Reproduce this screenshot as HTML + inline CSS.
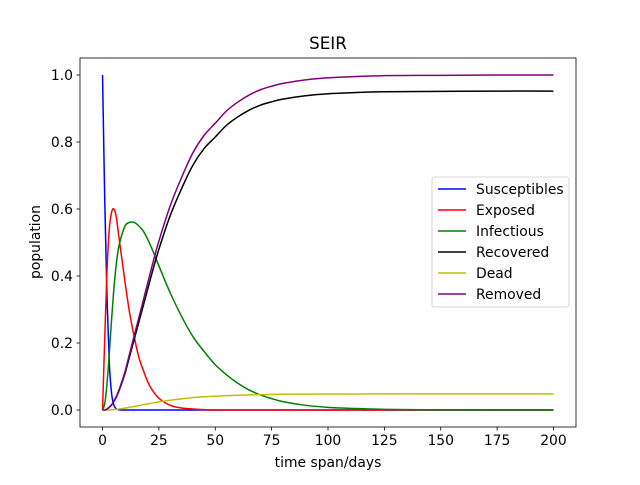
<!DOCTYPE html>
<html><head><meta charset="utf-8"><style>
body{margin:0;background:#fff}
svg{font-family:"DejaVu Sans","Liberation Sans",sans-serif}
</style></head><body>
<svg id="c" width="640" height="480" xmlns="http://www.w3.org/2000/svg">
<rect width="640" height="480" fill="#fff"/>
<text x="328" y="49" font-size="16.7" text-anchor="middle">SEIR</text>
<g id="plot"></g>
<rect x="80" y="58" width="496" height="369" fill="none" stroke="#000" stroke-width="0.8"/>
<text x="328" y="467" font-size="13.9" text-anchor="middle">time span/days</text>
<text x="40" y="242" font-size="13.9" text-anchor="middle" transform="rotate(-90 40 242)">population</text>
<g id="legend"></g>
</svg>
<script>
const days=[0,1,2,3,4,5,6,7,8,10,12,14,16,18,20,22,25,30,35,40,45,50,55,60,65,70,75,80,90,100,110,125,150,175,200];
const susceptibles=[1,0.62,0.33,0.14,0.05,0.015,0.004,0.001,0,0,0,0,0,0,0,0,0,0,0,0,0,0,0,0,0,0,0,0,0,0,0,0,0,0,0];
const exposed=[0,0.22,0.42,0.54,0.59,0.6,0.58,0.53,0.48,0.38,0.29,0.22,0.16,0.12,0.085,0.06,0.035,0.014,0.006,0.003,0.001,0,0,0,0,0,0,0,0,0,0,0,0,0,0];
const infectious=[0,0.02,0.08,0.17,0.27,0.36,0.43,0.48,0.51,0.55,0.56,0.56,0.55,0.535,0.51,0.48,0.43,0.35,0.28,0.22,0.175,0.135,0.105,0.08,0.06,0.045,0.034,0.025,0.014,0.008,0.005,0.002,0.0005,0,0];
const recovered=[0,0,0.003,0.008,0.015,0.025,0.037,0.052,0.07,0.11,0.16,0.21,0.26,0.31,0.36,0.41,0.48,0.58,0.66,0.73,0.78,0.815,0.85,0.875,0.895,0.91,0.92,0.928,0.938,0.944,0.947,0.95,0.951,0.952,0.952];
const dead=recovered.map(v=>v*0.0505);
const removed=recovered.map((v,i)=>v+dead[i]);
const xTicks=[0,25,50,75,100,125,150,175,200];
const yTicks=[0.0,0.2,0.4,0.6,0.8,1.0];
const seriesNames=["Susceptibles","Exposed","Infectious","Recovered","Dead","Removed"];
const seriesData=[susceptibles,exposed,infectious,recovered,dead,removed];
const colors=["#0000ff","#ff0000","#008000","#000000","#bfbf00","#800080"];
const NS="http://www.w3.org/2000/svg";
const X=d=>80+(d+10)/220*496, Y=v=>426.75-(v+0.05)/1.1*368.5;
const plot=document.getElementById('plot');
function mk(t,a,p){const e=document.createElementNS(NS,t);for(const k in a)e.setAttribute(k,a[k]);p.appendChild(e);return e;}
function smooth(pts){let d='M'+pts[0][0]+','+pts[0][1];for(let i=0;i<pts.length-1;i++){const p0=pts[i-1]||pts[i],p1=pts[i],p2=pts[i+1],p3=pts[i+2]||p2;
 const c1=[p1[0]+(p2[0]-p0[0])/6,p1[1]+(p2[1]-p0[1])/6],c2=[p2[0]-(p3[0]-p1[0])/6,p2[1]-(p3[1]-p1[1])/6];
 d+=' C'+c1+' '+c2+' '+p2;}return d;}
xTicks.forEach(t=>{
 const l=mk('line',{x1:X(t),x2:X(t),y1:427,y2:430.5,stroke:'#000','stroke-width':0.8},plot);
 
 
 const s=mk('text',{x:X(t),y:445,'font-size':13.9,'text-anchor':'middle'},plot);s.textContent=t;
 
 
});
yTicks.forEach(t=>{
 const l=mk('line',{x1:76.5,x2:80,y1:Y(t),y2:Y(t),stroke:'#000','stroke-width':0.8},plot);
 
 
 const s=mk('text',{x:73,y:Y(t)+5,'font-size':13.9,'text-anchor':'end'},plot);s.textContent=t.toFixed(1);
 
 
});
seriesData.forEach((arr,i)=>{
 const p=mk('path',{d:smooth(arr.map((v,j)=>[X(days[j]),Y(v)])),fill:'none',stroke:colors[i],'stroke-width':1.5,'stroke-linejoin':'round'},plot);
 
 
});
const lg=document.getElementById('legend');
const box=mk('rect',{x:432,y:177,width:137,height:130,rx:2,fill:'#fff','fill-opacity':0.8,stroke:'#ccc','stroke-width':0.8},lg);


seriesNames.forEach((n,i)=>{
 const y=189+i*21;
 const l=mk('line',{x1:438,x2:466,y1:y,y2:y,stroke:colors[i],'stroke-width':1.5},lg);
 
 
 const t=mk('text',{x:476,y:y+5,'font-size':13.9},lg);t.textContent=n;
 
 
});
</script>
</body></html>
